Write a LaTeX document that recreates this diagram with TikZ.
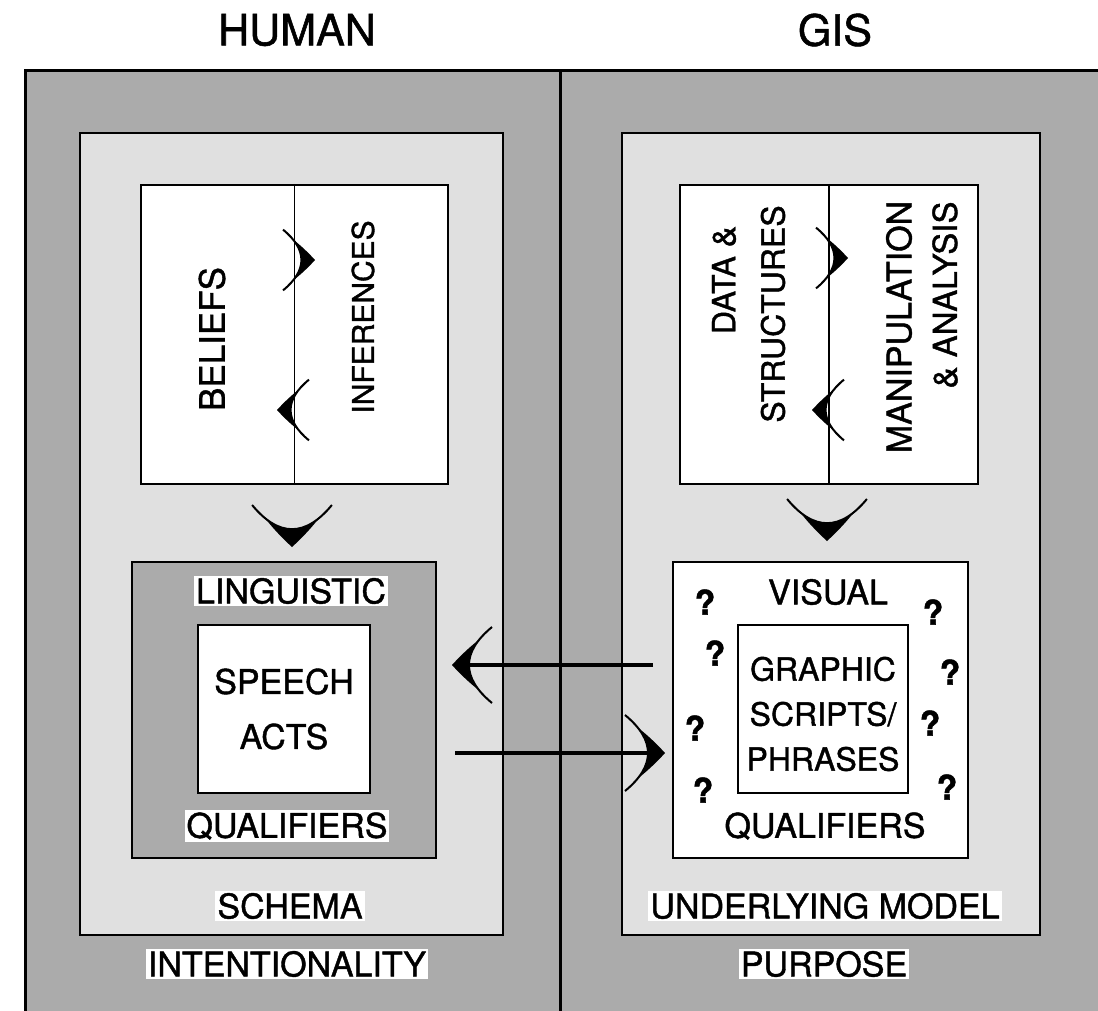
\documentclass[tikz,border=0pt]{standalone}
\usepackage{fontspec}
\setmainfont{TeX Gyre Heros}[FakeBold=1.2]
\tikzset{
  chev/.pic={
    \fill (0,0) .. controls (-10,-11) and (-20,-20) .. (-28,-26)
      .. controls (-13.4,-8.7) and (-13.4,8.7) .. (-28,26)
      .. controls (-20,20) and (-10,11) .. (0,0) -- cycle;
    \draw[line width=2pt] (-40,-38) .. controls (-9.3,-12.7) and (-9.3,12.7) .. (-40,38);
  },
}
\begin{document}
\begin{tikzpicture}[x=1pt, y=-1pt,
    box/.style={draw, line width=2.5pt, inner sep=0pt},
    light/.style={fill=black!12},
    dark/.style={fill=black!33},
    head/.style={font=\fontsize{43}{50}\selectfont},
    lbl/.style={font=\fontsize{34}{40}\selectfont, inner sep=2pt},
    tag/.style={lbl, fill=white},
    vlbl/.style={font=\fontsize{32}{38}\selectfont, rotate=90, inner sep=0pt},
    qm/.style={font=\fontsize{34}{40}\selectfont\bfseries, inner sep=0pt},
    shaft/.style={line width=4.5pt, shorten >=12pt}]

    % Page and clipping
    \useasboundingbox (0,0) rectangle (1098,1010);
    \fill[white] (0,0) rectangle (1098,1010);
    \clip (0,0) rectangle (1098,1010);

    % Outer frame
    \fill[black!33] (25,70) rectangle (1120,1030);
    \draw[line width=3pt] (1120,70) -- (25,70) -- (25,1030);
    \draw[line width=3pt] (560,70) -- (560,1030);

    % Headings
    \node[head] (human) at (297,30) {HUMAN};
    \node[head] (gis) at (835,30) {GIS};

    % Schema / underlying model boxes
    \node[box, light, minimum width=423pt, minimum height=802pt] (schema) at (291.5,534) {};
    \node[box, light, minimum width=418pt, minimum height=802pt] (model) at (831,534) {};

    % Top white boxes
    \node[box, fill=white, minimum width=307pt, minimum height=299pt] (beliefs) at (294.5,334.5) {};
    \node[box, fill=white, minimum width=298pt, minimum height=299pt] (data) at (829,334.5) {};
    \draw[line width=1.2pt] (beliefs.north) -- (beliefs.south);
    \draw[line width=1.2pt] (data.north) -- (data.south);

    % Lower boxes
    \node[box, dark, minimum width=304pt, minimum height=296pt] (ling) at (284,710) {};
    \node[box, fill=white, minimum width=295pt, minimum height=296pt] (visual) at (820.5,710) {};
    \node[box, fill=white, minimum width=172pt, minimum height=168pt] (speech) at (284,709) {};
    \node[box, fill=white, minimum width=170pt, minimum height=168pt] (graphic) at (823,709) {};

    % Rotated texts
    \node[vlbl, font=\fontsize{35}{40}\selectfont] (belieftxt) at (212,339) {BELIEFS};
    \node[vlbl, font=\fontsize{30}{36}\selectfont] (inftxt) at (363,317) {INFERENCES};
    \node[vlbl] (datatxt) at (724,280) {DATA \&};
    \node[vlbl] (structtxt) at (773,314) {STRUCTURES};
    \node[vlbl, font=\fontsize{34}{40}\selectfont] (maniptxt) at (899,327) {MANIPULATION};
    \node[vlbl, font=\fontsize{33}{40}\selectfont] (analtxt) at (945,295) {\& ANALYSIS};

    % Small arrowheads on the dividers
    \pic[scale=0.8] at (315,260) {chev};
    \pic[scale=0.8, rotate=180] at (277,410) {chev};
    \pic[scale=0.8] at (848,258) {chev};
    \pic[scale=0.8, rotate=180] at (812,410) {chev};

    % Downward chevrons
    \pic[scale=1.05, rotate=-90] at (292,547) {chev};
    \pic[scale=1.05, rotate=-90] at (827,541) {chev};

    % Box labels
    \node[tag] (lingtxt) at (291,591) {LINGUISTIC};
    \node[tag] (qualL) at (287,826) {QUALIFIERS};
    \node[lbl, align=center, font=\fontsize{34}{55}\selectfont] (speechtxt) at (284,709) {SPEECH\\ACTS};
    \node[lbl] (vistxt) at (828,592) {VISUAL};
    \node[lbl] (qualR) at (825,826) {QUALIFIERS};
    \node[lbl, align=center, font=\fontsize{32}{45}\selectfont] (graphtxt) at (823,714) {GRAPHIC\\SCRIPTS/\\PHRASES};
    \node[tag] (schematxt) at (290,906) {SCHEMA};
    \node[tag] (modeltxt) at (825,906) {UNDERLYING MODEL};
    \node[tag] (inttxt) at (287,964) {INTENTIONALITY};
    \node[tag] (purptxt) at (824,964) {PURPOSE};

    % Question marks
    \foreach \qx/\qy [count=\i] in {705/602, 933/612, 715/653, 950/672, 695/728, 930/723, 703/790, 947/787}
        \node[qm] (q\i) at (\qx,\qy) {?};

    % Exchange arrows
    \coordinate (backS) at (653,665);
    \coordinate (backT) at (452,665);
    \coordinate (fwdS) at (455,753);
    \coordinate (fwdT) at (665,753);
    \draw[shaft] (backS) -- (backT);
    \pic[rotate=180] at (backT) {chev};
    \draw[shaft] (fwdS) -- (fwdT);
    \pic at (fwdT) {chev};

\end{tikzpicture}
\end{document}
